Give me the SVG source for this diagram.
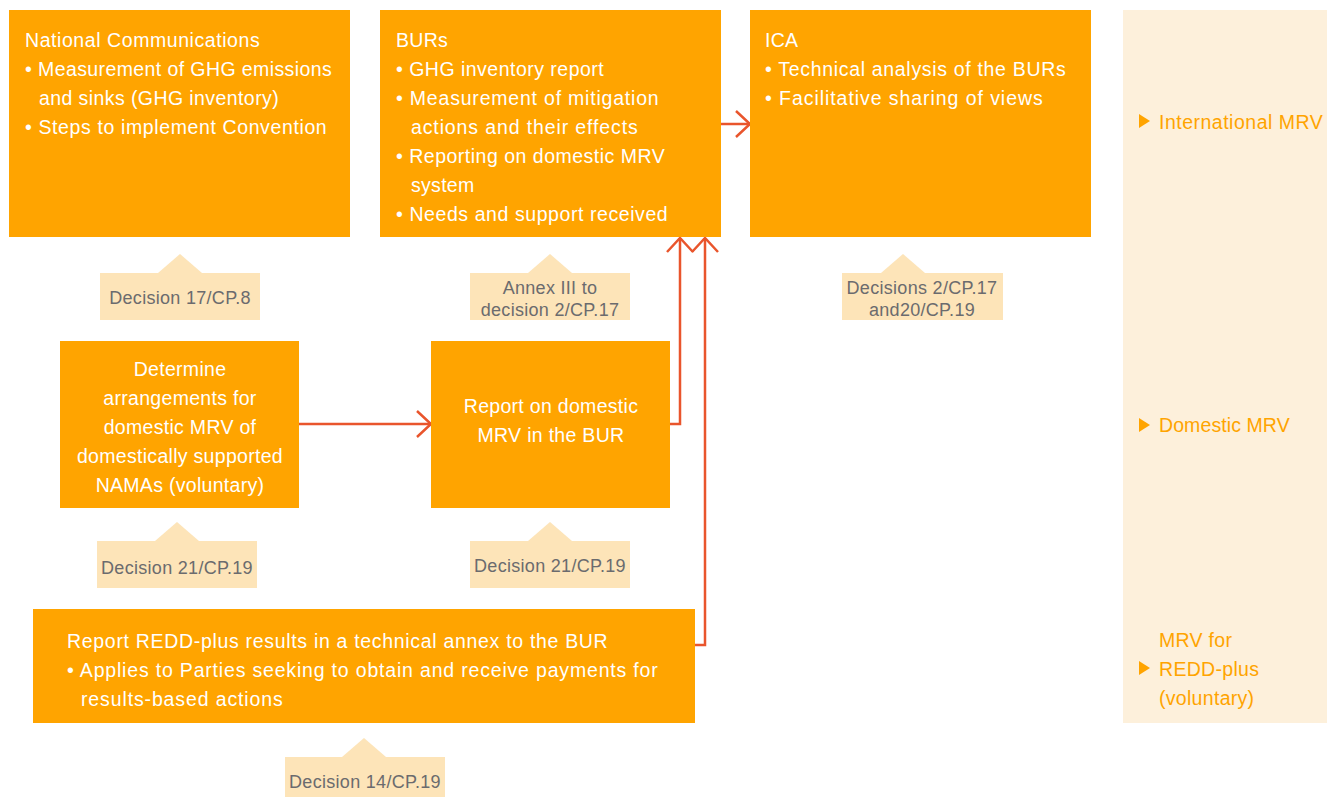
<svg xmlns="http://www.w3.org/2000/svg" width="1327" height="797" viewBox="0 0 1327 797">
<style>
.box{fill:#FFA400}
.lbl{fill:#FDE4B8}
.t{font-family:"Liberation Sans",Arial,sans-serif;font-size:19.5px;letter-spacing:0.3px;fill:#FFFFFF}
.c{text-anchor:middle}
.lt{font-family:"Liberation Sans",Arial,sans-serif;font-size:18px;letter-spacing:0.3px;fill:#6B6B6E;text-anchor:middle}
.rt{font-family:"Liberation Sans",Arial,sans-serif;font-size:19.5px;letter-spacing:0.3px;fill:#FFA400}
.conn{fill:none;stroke:#E9552C;stroke-width:2.5}
</style>
<defs>
<marker id="ah" viewBox="0 0 16 28" refX="15" refY="14" markerWidth="16" markerHeight="28" markerUnits="userSpaceOnUse" orient="auto">
<path d="M1,1 L15,14 L1,27" fill="none" stroke="#E9552C" stroke-width="2.5"/>
</marker>
</defs>
<rect x="1123" y="10" width="204" height="713" fill="#FDF0DB"/>
<g id="legend">
<path d="M1139,114 L1150,121 L1139,128 Z" fill="#FFA400"/>
<text class="rt" x="1159" y="129" textLength="164">International MRV</text>
<path d="M1139,418 L1150,425 L1139,432 Z" fill="#FFA400"/>
<text class="rt" x="1159" y="432" textLength="131">Domestic MRV</text>
<path d="M1139,661 L1150,668 L1139,675 Z" fill="#FFA400"/>
<text class="rt" x="1159" y="647">MRV for</text>
<text class="rt" x="1159" y="676">REDD-plus</text>
<text class="rt" x="1159" y="705">(voluntary)</text>
</g>
<g id="connectors">
<line class="conn" x1="721" y1="124" x2="750" y2="124" marker-end="url(#ah)"/>
<line class="conn" x1="299" y1="424" x2="431" y2="424" marker-end="url(#ah)"/>
<polyline class="conn" points="670,424 680,424 680,238" marker-end="url(#ah)"/>
<polyline class="conn" points="695,645 705,645 705,238" marker-end="url(#ah)"/>
</g>
<g id="nc">
<rect class="box" x="9" y="10" width="341" height="227"/>
<text class="t" x="25" y="47" textLength="235">National Communications</text>
<text class="t" x="25" y="76" textLength="307">• Measurement of GHG emissions</text>
<text class="t" x="39" y="105" textLength="240">and sinks (GHG inventory)</text>
<text class="t" x="25" y="134" textLength="302">• Steps to implement Convention</text>
</g>
<g id="burs">
<rect class="box" x="380" y="10" width="341" height="227"/>
<text class="t" x="396" y="47">BURs</text>
<text class="t" x="396" y="76" textLength="208">• GHG inventory report</text>
<text class="t" x="396" y="105" textLength="263">• Measurement of mitigation</text>
<text class="t" x="411" y="134" textLength="227">actions and their effects</text>
<text class="t" x="396" y="163" textLength="269">• Reporting on domestic MRV</text>
<text class="t" x="411" y="192">system</text>
<text class="t" x="396" y="221" textLength="272">• Needs and support received</text>
</g>
<g id="ica">
<rect class="box" x="750" y="10" width="341" height="227"/>
<text class="t" x="765" y="47">ICA</text>
<text class="t" x="765" y="76" textLength="301">• Technical analysis of the BURs</text>
<text class="t" x="765" y="105" textLength="278">• Facilitative sharing of views</text>
</g>
<g id="lbl-nc">
<path class="lbl" d="M158,273 L180,254 L202,273 Z"/>
<rect class="lbl" x="100" y="273" width="160" height="47"/>
<text class="lt" x="180" y="304">Decision 17/CP.8</text>
</g>
<g id="lbl-burs">
<path class="lbl" d="M528,273 L550,254 L572,273 Z"/>
<rect class="lbl" x="470" y="273" width="160" height="47"/>
<text class="lt" x="550" y="294">Annex III to</text>
<text class="lt" x="550" y="316">decision 2/CP.17</text>
</g>
<g id="lbl-ica">
<path class="lbl" d="M881,273 L903,254 L925,273 Z"/>
<rect class="lbl" x="842" y="273" width="161" height="47"/>
<text class="lt" x="922" y="294">Decisions 2/CP.17</text>
<text class="lt" x="922" y="316">and20/CP.19</text>
</g>
<g id="determine">
<rect class="box" x="60" y="341" width="239" height="167"/>
<text class="t c" x="180" y="376">Determine</text>
<text class="t c" x="180" y="405">arrangements for</text>
<text class="t c" x="180" y="434">domestic MRV of</text>
<text class="t c" x="180" y="463">domestically supported</text>
<text class="t c" x="180" y="492">NAMAs (voluntary)</text>
</g>
<g id="report">
<rect class="box" x="431" y="341" width="239" height="167"/>
<text class="t c" x="551" y="413">Report on domestic</text>
<text class="t c" x="551" y="442">MRV in the BUR</text>
</g>
<g id="lbl-det">
<path class="lbl" d="M155,541 L177,522 L199,541 Z"/>
<rect class="lbl" x="97" y="541" width="160" height="47"/>
<text class="lt" x="177" y="574">Decision 21/CP.19</text>
</g>
<g id="lbl-rep">
<path class="lbl" d="M528,541 L550,522 L572,541 Z"/>
<rect class="lbl" x="470" y="541" width="160" height="47"/>
<text class="lt" x="550" y="572">Decision 21/CP.19</text>
</g>
<g id="redd">
<rect class="box" x="33" y="609" width="662" height="114"/>
<text class="t" x="67" y="648" textLength="541">Report REDD-plus results in a technical annex to the BUR</text>
<text class="t" x="67" y="677" textLength="591">• Applies to Parties seeking to obtain and receive payments for</text>
<text class="t" x="81" y="706" textLength="202">results-based actions</text>
</g>
<g id="lbl-redd">
<path class="lbl" d="M342,757 L364,738 L386,757 Z"/>
<rect class="lbl" x="285" y="757" width="160" height="40"/>
<text class="lt" x="365" y="788">Decision 14/CP.19</text>
</g>
</svg>
